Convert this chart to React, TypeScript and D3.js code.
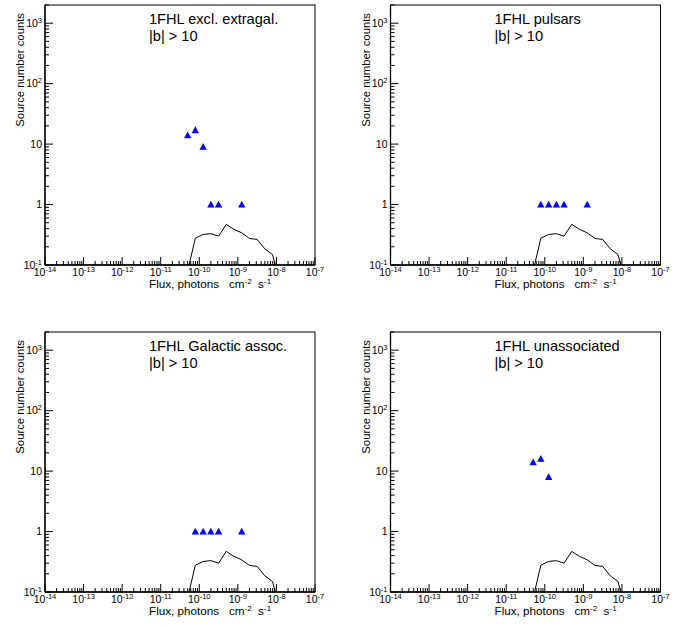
import React from "react";
import * as d3 from "d3";

// ---- data ----
const curveFlux = [5.0e-11, 7.9e-11, 1.26e-10, 2.0e-10, 3.16e-10, 5.0e-10, 7.9e-10, 1.26e-9, 2.0e-9, 3.16e-9, 5.0e-9, 7.9e-9, 1.26e-8];
const curveCounts = [0.08, 0.278, 0.32, 0.33, 0.30, 0.47, 0.39, 0.34, 0.275, 0.265, 0.185, 0.149, 0.05];

const exclExtragalFlux = [5.0e-11, 7.9e-11, 1.26e-10, 2.0e-10, 3.16e-10, 1.26e-9];
const exclExtragalCounts = [14, 17, 9, 1, 1, 1];
const pulsarFlux = [7.9e-11, 1.26e-10, 2.0e-10, 3.16e-10, 1.26e-9];
const pulsarCounts = [1, 1, 1, 1, 1];
const galacticFlux = [7.9e-11, 1.26e-10, 2.0e-10, 3.16e-10, 1.26e-9];
const galacticCounts = [1, 1, 1, 1, 1];
const unassocFlux = [5.0e-11, 7.9e-11, 1.26e-10];
const unassocCounts = [14, 16, 8];

const panelTitles = ["1FHL excl. extragal.", "1FHL pulsars", "1FHL Galactic assoc.", "1FHL unassociated"];
const panelSubtitle = "|b| > 10";
const xMajorExps = [-14, -13, -12, -11, -10, -9, -8, -7];
const yMajorTicks = [0.1, 1, 10, 100, 1000];
const yTickLabels: [string, string][] = [["10", "-1"], ["1", ""], ["10", ""], ["10", "2"], ["10", "3"]];
const xDomain: [number, number] = [1e-14, 1e-7];
const yDomain: [number, number] = [0.1, 2000];

const FONT = "'Liberation Sans', Arial, Helvetica, sans-serif";

const panelData = [
  { flux: exclExtragalFlux, counts: exclExtragalCounts },
  { flux: pulsarFlux, counts: pulsarCounts },
  { flux: galacticFlux, counts: galacticCounts },
  { flux: unassocFlux, counts: unassocCounts },
];

const lefts = [45, 390.5, 45, 390.5];
const tops = [5, 5, 332, 332];
const FW = 270;
const FH = 260;

function Panel({ idx }: { idx: number }) {
  const left = lefts[idx];
  const top = tops[idx];
  const x = d3.scaleLog().domain(xDomain).range([left, left + FW]);
  const y = d3.scaleLog().domain(yDomain).range([top + FH, top]);
  const bottom = top + FH;
  const { flux, counts } = panelData[idx];

  const xMinor: number[] = [];
  for (let e = -14; e < -7; e++) for (let k = 2; k <= 9; k++) xMinor.push(k * Math.pow(10, e));
  const yMinor: number[] = [];
  for (let e = -1; e < 3; e++) for (let k = 2; k <= 9; k++) yMinor.push(k * Math.pow(10, e));
  yMinor.push(2000);

  const line = d3
    .line<number>()
    .x((_, i) => x(curveFlux[i]))
    .y((d) => y(d));

  const clipId = `clip${idx}`;
  const tri = (cx: number, cy: number) =>
    `M${cx - 3.7},${cy + 3} L${cx + 3.7},${cy + 3} L${cx},${cy - 3.8} Z`;

  return (
    <g>
      <defs>
        <clipPath id={clipId}>
          <rect x={left} y={top} width={FW} height={FH} />
        </clipPath>
      </defs>
      {/* frame */}
      <rect x={left} y={top} width={FW} height={FH} fill="none" stroke="#000" strokeWidth={1} />
      <line x1={left} x2={left + FW} y1={bottom} y2={bottom} stroke="#000" strokeWidth={1.6} />
      <line x1={left} x2={left} y1={top} y2={bottom} stroke="#000" strokeWidth={1.3} />
      {/* x ticks */}
      {xMajorExps.map((e) => (
        <line key={`xM${e}`} x1={x(Math.pow(10, e))} x2={x(Math.pow(10, e))} y1={bottom} y2={bottom - 8} stroke="#000" strokeWidth={1} />
      ))}
      {xMinor.map((v, i) => (
        <line key={`xm${i}`} x1={x(v)} x2={x(v)} y1={bottom} y2={bottom - 4} stroke="#000" strokeWidth={1} />
      ))}
      {/* y ticks */}
      {yMajorTicks.map((v) => (
        <line key={`yM${v}`} x1={left} x2={left + 8} y1={y(v)} y2={y(v)} stroke="#000" strokeWidth={1} />
      ))}
      {yMinor.map((v, i) => (
        <line key={`ym${i}`} x1={left} x2={left + 4} y1={y(v)} y2={y(v)} stroke="#000" strokeWidth={1} />
      ))}
      {/* x tick labels */}
      {xMajorExps.map((e) => (
        <text key={`xl${e}`} x={x(Math.pow(10, e))} y={bottom + 11} textAnchor="middle" fontFamily={FONT} fontSize={10.5}>
          10
          <tspan fontSize={7.5} dy={-4}>{String(e)}</tspan>
        </text>
      ))}
      {/* y tick labels */}
      {yMajorTicks.map((v, i) => (
        <text key={`yl${v}`} x={left - 3} y={y(v) + 3.5} textAnchor="end" fontFamily={FONT} fontSize={10.5}>
          {yTickLabels[i][0]}
          {yTickLabels[i][1] ? (
            <tspan fontSize={7.5} dy={-4}>{yTickLabels[i][1]}</tspan>
          ) : null}
        </text>
      ))}
      {/* axis titles */}
      <text x={left + 104} y={bottom + 23} fontFamily={FONT} fontSize={11.7} style={{ whiteSpace: "pre" }}>
        {"Flux, photons   cm"}
        <tspan fontSize={8} dy={-4}>-2</tspan>
        <tspan dy={4}>{"  s"}</tspan>
        <tspan fontSize={8} dy={-4}>-1</tspan>
      </text>
      <text
        transform={`translate(${left - 21},${top + 8}) rotate(-90)`}
        textAnchor="end"
        fontFamily={FONT}
        fontSize={11.3}
      >
        Source number counts
      </text>
      {/* curve */}
      <g clipPath={`url(#${clipId})`}>
        <path d={line(curveCounts) || ""} fill="none" stroke="#000" strokeWidth={1} />
      </g>
      {/* markers */}
      {flux.map((f, i) => (
        <path key={`m${i}`} d={tri(x(f), y(counts[i]))} fill="#0000ff" />
      ))}
      {/* panel labels */}
      <text x={left + 104} y={top + 19} fontFamily={FONT} fontSize={14.6}>
        {panelTitles[idx]}
      </text>
      <text x={left + 104} y={top + 36} fontFamily={FONT} fontSize={14.6}>
        {panelSubtitle}
      </text>
    </g>
  );
}

export default function App() {
  return (
    <svg
      width={678}
      height={627}
      style={{ position: "absolute", left: 0, top: 0, background: "#fff" }}
    >
      <rect x={0} y={0} width={678} height={627} fill="#fff" />
      {[0, 1, 2, 3].map((i) => (
        <Panel key={i} idx={i} />
      ))}
    </svg>
  );
}
